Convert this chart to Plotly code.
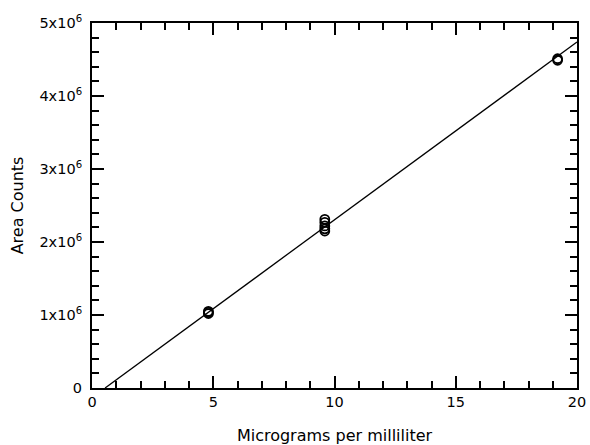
import plotly.graph_objects as go

# data
conc = [4.8, 4.8, 4.8, 9.6, 9.6, 9.6, 9.6, 9.6, 19.2, 19.2]
area = [1.02e6, 1.035e6, 1.05e6, 2.15e6, 2.18e6, 2.22e6, 2.27e6, 2.31e6, 4.49e6, 4.51e6]
fit_x = [0.54, 20]
fit_y = [0, 4.74e6]
ytick_vals = [0, 1e6, 2e6, 3e6, 4e6, 5e6]
ytick_text = ["0", "1x10<sup>6</sup>", "2x10<sup>6</sup>", "3x10<sup>6</sup>", "4x10<sup>6</sup>", "5x10<sup>6</sup>"]
xtick_vals = [0, 5, 10, 15, 20]

font = "DejaVu Sans, Liberation Sans, Arial, sans-serif"

fig = go.Figure()
fig.add_trace(go.Scatter(x=fit_x, y=fit_y, mode="lines",
                         line=dict(color="black", width=1.3), showlegend=False))
fig.add_trace(go.Scatter(x=conc, y=area, mode="markers",
                         marker=dict(symbol="circle-open", size=9, color="black",
                                     line=dict(width=1.8, color="black")),
                         showlegend=False))

axis_common = dict(showline=True, linecolor="black", linewidth=2, mirror="allticks",
                   ticks="inside", ticklen=12, tickwidth=1.5, tickcolor="black",
                   showgrid=False, zeroline=False, automargin=False,
                   tickfont=dict(family=font, size=14.5, color="black"))

fig.update_xaxes(range=[0, 20], tickvals=xtick_vals,
                 minor=dict(ticks="inside", ticklen=7, tickwidth=1.5, dtick=1, tick0=0,
                            tickcolor="black", showgrid=False),
                 title=dict(text="Micrograms per milliliter", standoff=22,
                            font=dict(family=font, size=16, color="black")),
                 **axis_common)
fig.update_yaxes(range=[0, 5e6], tickvals=ytick_vals, ticktext=ytick_text,
                 ticklabelstandoff=5,
                 minor=dict(ticks="inside", ticklen=7, tickwidth=1.5, dtick=2e5, tick0=0,
                            tickcolor="black", showgrid=False),
                 title=dict(text="Area Counts", standoff=12,
                            font=dict(family=font, size=16, color="black")),
                 **axis_common)

fig.update_layout(width=590, height=445,
                  margin=dict(l=92, r=13, t=23, b=57),
                  plot_bgcolor="white", paper_bgcolor="white",
                  font=dict(family=font, color="black"))

fig.write_html("out.html", config={"displayModeBar": False},
               post_script="document.body.style.margin='0';document.body.style.overflow='hidden';")
